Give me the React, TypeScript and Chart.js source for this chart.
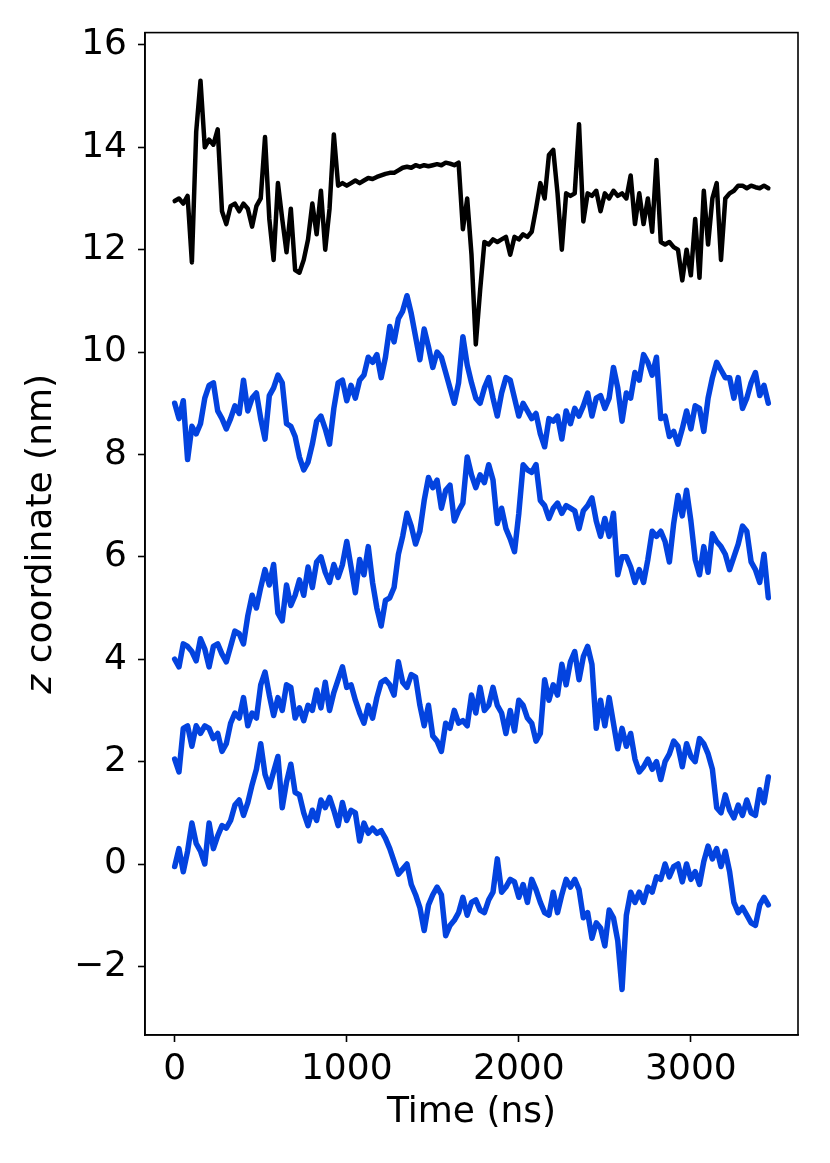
import { useEffect, useRef } from "react";
import { Chart, registerables } from "chart.js";

Chart.register(...registerables);

// sampling grid (ns)
const timeNs = Array.from({ length: 139 }, (_, i) => i * 25);

const xTicks = [0, 1000, 2000, 3000];
const yTicks = [-2, 0, 2, 4, 6, 8, 10, 12, 14, 16];

// top trace (black)
const zTop = [
  12.95, 13.0, 12.9, 13.05, 11.75, 14.3, 15.3, 14.0, 14.15, 14.05,
  14.35, 12.75, 12.5, 12.85, 12.9, 12.75, 12.9, 12.8, 12.45, 12.85,
  13.0, 14.2, 12.6, 11.8, 13.3, 12.6, 11.95, 12.8, 11.6, 11.55,
  11.8, 12.2, 12.9, 12.3, 13.15, 12.0, 12.8, 14.25, 13.25, 13.3,
  13.25, 13.3, 13.35, 13.3, 13.35, 13.4, 13.38, 13.42, 13.45, 13.48,
  13.5, 13.5, 13.55, 13.6, 13.62, 13.6, 13.65, 13.62, 13.65, 13.63,
  13.65, 13.67, 13.65, 13.7, 13.68, 13.65, 13.7, 12.4, 13.0, 11.9,
  10.15, 11.2, 12.15, 12.1, 12.2, 12.15, 12.2, 12.25, 11.9, 12.25,
  12.2, 12.3, 12.25, 12.35, 12.8, 13.3, 13.0, 13.85, 13.95, 13.1,
  12.0, 13.1, 13.05, 13.1, 14.45, 12.55, 13.1, 13.05, 13.15, 12.75,
  13.1, 13.0, 13.15, 13.05, 13.1, 13.0, 13.45, 12.5, 13.1, 12.5,
  13.0, 12.35, 13.75, 12.15, 12.1, 12.15, 12.05, 12.0, 11.4, 12.0,
  11.5, 12.6, 11.45, 13.15, 12.1, 13.0, 13.3, 11.8, 13.0, 13.1,
  13.15, 13.25, 13.25, 13.2, 13.25, 13.22, 13.2, 13.25, 13.2,
];

// blue traces, top to bottom
const zBlue1 = [
  9.0, 8.7, 9.05, 7.9, 8.55, 8.4, 8.6, 9.1, 9.35, 9.4,
  8.85, 8.7, 8.5, 8.7, 8.95, 8.8, 9.45, 8.85, 9.1, 9.2,
  8.7, 8.3, 9.15, 9.3, 9.55, 9.4, 8.6, 8.55, 8.35, 7.95,
  7.7, 7.85, 8.2, 8.65, 8.75, 8.5, 8.2, 8.9, 9.4, 9.45,
  9.05, 9.35, 9.1, 9.45, 9.55, 9.9, 9.8, 9.95, 9.5, 9.9,
  10.5, 10.2, 10.65, 10.8, 11.1, 10.75, 10.3, 9.85, 10.45, 10.1,
  9.7, 10.0, 9.9, 9.6, 9.3, 9.0, 9.4, 10.3, 9.75, 9.4,
  9.1, 9.0, 9.3, 9.5, 9.1, 8.75, 9.2, 9.5, 9.45, 9.1,
  8.75, 9.0, 8.85, 8.7, 8.8, 8.4, 8.15, 8.7, 8.65, 8.75,
  8.3, 8.85, 8.6, 8.9, 8.75, 8.95, 9.2, 8.75, 9.1, 9.15,
  8.9, 9.1, 9.7, 9.3, 8.65, 9.2, 9.1, 9.6, 9.45, 9.95,
  9.8, 9.55, 9.9, 8.7, 8.75, 8.35, 8.45, 8.2, 8.5, 8.85,
  8.5, 8.95, 8.9, 8.45, 9.1, 9.5, 9.8, 9.65, 9.5, 9.5,
  9.1, 9.5, 8.9, 9.1, 9.4, 9.6, 9.15, 9.35, 9.0,
];

const zBlue2 = [
  4.0, 3.85, 4.3, 4.25, 4.15, 3.97, 4.4, 4.2, 3.85, 4.25,
  4.3, 4.1, 3.95, 4.25, 4.55, 4.5, 4.3, 4.85, 5.25, 5.0,
  5.4, 5.75, 5.45, 5.85, 4.9, 4.75, 5.45, 5.05, 5.25, 5.55,
  5.25, 5.8, 5.4, 5.9, 6.0, 5.7, 5.5, 5.85, 5.6, 5.85,
  6.3, 5.8, 5.3, 5.95, 5.65, 6.2, 5.5, 5.0, 4.65, 5.15,
  5.2, 5.4, 6.05, 6.4, 6.85, 6.6, 6.25, 6.5, 7.1, 7.55,
  7.35, 7.5, 6.95, 7.3, 7.4, 6.7, 6.9, 7.05, 7.95, 7.6,
  7.35, 7.6, 7.45, 7.8, 7.5, 6.65, 6.95, 6.55, 6.35, 6.1,
  6.85, 7.8, 7.7, 7.65, 7.8, 7.1, 7.0, 6.75, 6.95, 7.05,
  6.85, 7.0, 6.95, 6.9, 6.55, 6.9, 7.0, 7.15, 6.7, 6.4,
  6.75, 6.4, 6.85, 5.65, 6.0, 6.0, 5.8, 5.5, 5.75, 5.5,
  5.95, 6.5, 6.4, 6.5, 6.3, 5.9, 6.65, 7.2, 6.8, 7.3,
  6.7, 5.95, 5.65, 6.2, 5.7, 6.45, 6.3, 6.2, 6.05, 5.75,
  6.0, 6.25, 6.6, 6.5, 5.9, 5.75, 5.5, 6.05, 5.2,
];

const zBlue3 = [
  2.05, 1.8, 2.65, 2.7, 2.3, 2.7, 2.55, 2.7, 2.65, 2.45,
  2.55, 2.2, 2.35, 2.75, 2.95, 2.85, 3.25, 2.7, 2.95, 2.85,
  3.5, 3.75, 3.3, 2.9, 3.25, 3.0, 3.5, 3.45, 2.85, 3.05,
  2.8, 3.1, 3.0, 3.4, 3.05, 3.55, 3.0, 3.35, 3.6, 3.85,
  3.45, 3.5, 3.2, 2.95, 2.75, 3.1, 2.85, 3.25, 3.55, 3.6,
  3.5, 3.3, 3.95, 3.55, 3.45, 3.7, 3.65, 3.1, 2.7, 3.1,
  2.5, 2.4, 2.2, 2.75, 2.65, 3.0, 2.75, 2.8, 2.7, 3.3,
  2.95, 3.45, 3.0, 3.1, 3.45, 3.1, 2.95, 2.55, 3.0, 2.6,
  3.2, 3.1, 2.85, 2.75, 2.4, 2.55, 3.6, 3.2, 3.5, 3.3,
  3.9, 3.5, 3.95, 4.15, 3.6, 4.05, 4.25, 3.9, 2.65, 3.2,
  2.7, 3.25, 2.75, 2.25, 2.65, 2.3, 2.55, 2.05, 1.8, 1.9,
  2.05, 1.85, 2.0, 1.65, 2.0, 2.15, 2.4, 2.3, 1.9, 2.35,
  2.1, 2.0, 2.45, 2.35, 2.15, 1.85, 1.1, 1.0, 1.35, 1.05,
  0.9, 1.15, 0.95, 1.25, 1.0, 0.95, 1.45, 1.2, 1.7,
];

const zBlue4 = [
  -0.05, 0.3, -0.15, 0.25, 0.8, 0.4, 0.25, 0.0, 0.8, 0.3,
  0.55, 0.75, 0.7, 0.85, 1.15, 1.25, 0.95, 1.2, 1.55, 1.85,
  2.35, 1.75, 1.5, 1.8, 2.1, 1.1, 1.6, 1.95, 1.4, 1.35,
  1.0, 0.75, 1.05, 0.85, 1.25, 1.1, 1.3, 1.05, 0.75, 1.2,
  0.85, 1.05, 1.0, 0.45, 0.8, 0.6, 0.7, 0.6, 0.65, 0.5,
  0.3, 0.05, -0.2, -0.1, 0.0, -0.4, -0.6, -0.85, -1.3, -0.8,
  -0.6, -0.45, -0.6, -1.4, -1.2, -1.1, -0.95, -0.65, -1.0, -0.75,
  -0.7, -0.9, -0.95, -0.7, -0.55, 0.1, -0.55, -0.45, -0.3, -0.35,
  -0.65, -0.4, -0.75, -0.3, -0.5, -0.75, -0.95, -1.0, -0.55, -0.95,
  -0.6, -0.3, -0.45, -0.3, -0.5, -1.05, -0.95, -1.45, -1.15, -1.25,
  -1.6, -0.9, -1.05, -1.5, -2.45, -1.0, -0.55, -0.75, -0.55, -0.75,
  -0.45, -0.55, -0.25, -0.3, 0.0, -0.25, -0.05, 0.0, -0.35, 0.0,
  -0.3, -0.15, -0.4, 0.05, 0.35, 0.1, 0.3, -0.05, 0.25, -0.15,
  -0.75, -0.95, -0.85, -1.0, -1.15, -1.2, -0.8, -0.65, -0.8,
];

const BLUE = "#0343df";
const FONT = "DejaVu Sans";

const toPoints = (vals: number[]) =>
  vals.map((v, i) => ({ x: timeNs[i], y: v }));

// full box around the axes + the y label with an italic z
const framePlugin = {
  id: "frame",
  afterDraw(chart: Chart) {
    const { ctx, chartArea } = chart;
    ctx.save();
    ctx.strokeStyle = "#000";
    ctx.lineWidth = 1.6;
    ctx.strokeRect(
      chartArea.left,
      chartArea.top,
      chartArea.right - chartArea.left,
      chartArea.bottom - chartArea.top
    );

    const italic = `italic 36px "${FONT}"`;
    const normal = `36px "${FONT}"`;
    const rest = " coordinate (nm)";
    ctx.font = italic;
    const wz = ctx.measureText("z").width;
    ctx.font = normal;
    const wr = ctx.measureText(rest).width;
    const cy = (chartArea.top + chartArea.bottom) / 2;
    ctx.translate(42, cy);
    ctx.rotate(-Math.PI / 2);
    ctx.fillStyle = "#000";
    ctx.textBaseline = "middle";
    ctx.textAlign = "left";
    const x0 = -(wz + wr) / 2;
    ctx.font = italic;
    ctx.fillText("z", x0, 0);
    ctx.font = normal;
    ctx.fillText(rest, x0 + wz, 0);
    ctx.restore();
  },
};

export default function App() {
  const chartRef = useRef<HTMLCanvasElement>(null);
  const chartInstance = useRef<Chart | null>(null);

  useEffect(() => {
    document.body.style.margin = "0";
    if (!chartRef.current) return;

    if (chartInstance.current) {
      chartInstance.current.destroy();
    }

    const ctx = chartRef.current.getContext("2d");
    if (!ctx) return;

    const traces = [
      { vals: zTop, color: "#000000", width: 4.5 },
      { vals: zBlue1, color: BLUE, width: 5.5 },
      { vals: zBlue2, color: BLUE, width: 5.5 },
      { vals: zBlue3, color: BLUE, width: 5.5 },
      { vals: zBlue4, color: BLUE, width: 5.5 },
    ];

    chartInstance.current = new Chart(ctx, {
      type: "line",
      data: {
        datasets: traces.map((t) => ({
          data: toPoints(t.vals),
          borderColor: t.color,
          borderWidth: t.width,
          borderJoinStyle: "round" as const,
          borderCapStyle: "round" as const,
          pointRadius: 0,
          tension: 0,
          fill: false,
        })),
      },
      options: {
        animation: false,
        responsive: true,
        maintainAspectRatio: false,
        layout: { padding: { left: 0, right: 32, top: 30, bottom: 0 } },
        plugins: {
          legend: { display: false },
          tooltip: { enabled: false },
        },
        scales: {
          x: {
            type: "linear",
            min: -172.5,
            max: 3622.5,
            afterBuildTicks: (axis) => {
              axis.ticks = xTicks.map((v) => ({ value: v }));
            },
            afterFit: (axis) => {
              axis.height = 128;
            },
            ticks: {
              color: "#000",
              font: { family: FONT, size: 36 },
              padding: 6,
              maxRotation: 0,
              autoSkip: false,
              callback: (v) => String(v),
            },
            grid: {
              display: true,
              drawOnChartArea: false,
              drawTicks: true,
              tickLength: 7,
              tickWidth: 1.6,
              tickColor: "#000",
            },
            border: { display: true, color: "#000", width: 1.6 },
            title: {
              display: true,
              text: "Time (ns)",
              color: "#000",
              font: { family: FONT, size: 36 },
              padding: { top: 0, bottom: 29 },
            },
          },
          y: {
            type: "linear",
            min: -3.34,
            max: 16.24,
            afterBuildTicks: (axis) => {
              axis.ticks = yTicks.map((v) => ({ value: v }));
            },
            afterFit: (axis) => {
              axis.width = 145;
            },
            ticks: {
              color: "#000",
              font: { family: FONT, size: 36 },
              padding: 11,
              autoSkip: false,
              callback: (v) =>
                Number(v) < 0 ? "\u2212" + Math.abs(Number(v)) : String(v),
            },
            grid: {
              display: true,
              drawOnChartArea: false,
              drawTicks: true,
              tickLength: 7,
              tickWidth: 1.6,
              tickColor: "#000",
            },
            border: { display: true, color: "#000", width: 1.6 },
          },
        },
      },
      plugins: [framePlugin],
    });

    return () => {
      if (chartInstance.current) {
        chartInstance.current.destroy();
        chartInstance.current = null;
      }
    };
  }, []);

  return (
    <div style={{ width: 830, height: 1163, position: "relative", background: "#fff" }}>
      <canvas ref={chartRef} />
    </div>
  );
}
